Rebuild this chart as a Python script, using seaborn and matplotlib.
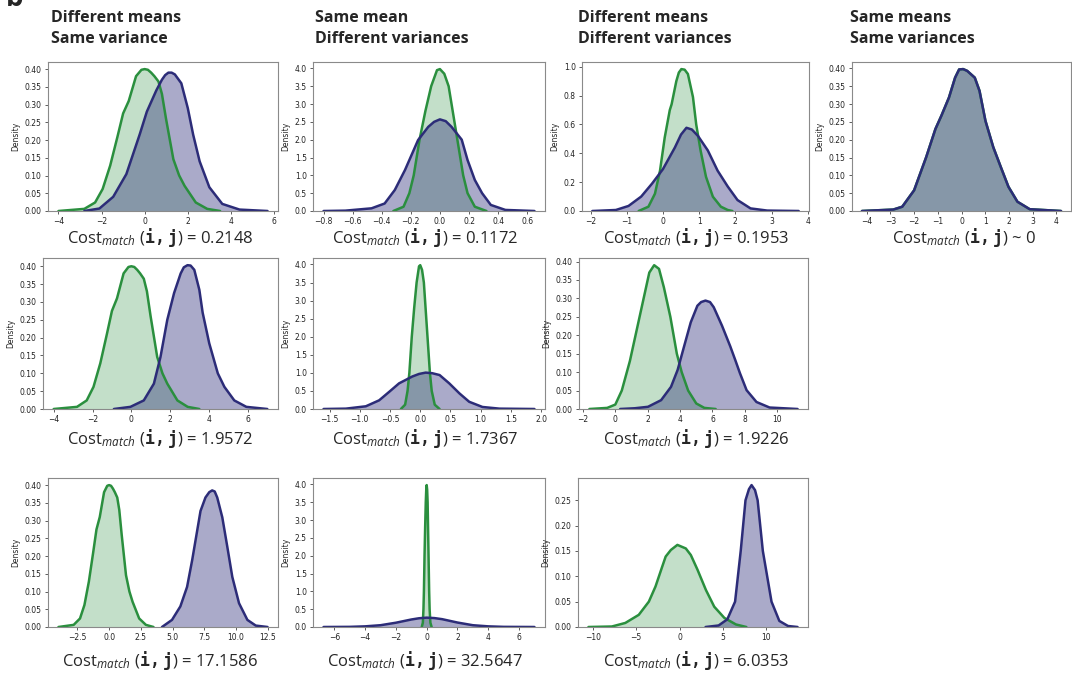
import matplotlib
matplotlib.use("Agg")
import matplotlib.pyplot as plt
from matplotlib.ticker import MultipleLocator
import seaborn as sns

# colours of the two distributions
GREEN = "#2a8f3e"
NAVY = "#2c2c78"

# ---- density curves (x, density) ----
# normal(0,1) style green curve, shared by first column
g_std_x = [-4.0, -2.8, -2.3, -1.95, -1.6, -1.26, -1.0, -0.74, -0.4, -0.15, 0.0, 0.15, 0.3, 0.45, 0.64, 0.8,
           0.99, 1.33, 1.6, 1.85, 2.37, 2.9, 3.5]
g_std_y = [0.0, 0.006, 0.024, 0.062, 0.128, 0.21, 0.275, 0.31, 0.38, 0.398, 0.40, 0.398, 0.39, 0.38, 0.365, 0.33,
           0.26, 0.146, 0.10, 0.071, 0.024, 0.006, 0.0]

a_navy_x = [-2.8, -2.1, -1.46, -0.85, -0.23, 0.1, 0.54, 0.8, 0.95, 1.1, 1.25, 1.4, 1.7, 2.0, 2.25, 2.55, 3.0, 3.6,
            4.4, 5.7]
a_navy_y = [0.0, 0.007, 0.04, 0.104, 0.216, 0.28, 0.34, 0.37, 0.383, 0.39, 0.39, 0.385, 0.36, 0.29, 0.215, 0.14,
            0.067, 0.02, 0.004, 0.0]

# narrow green curve (sd ~0.1)
g_narrow_x = [-0.32, -0.25, -0.21, -0.18, -0.14, -0.1, -0.06, -0.02, 0.0, 0.03, 0.06, 0.08, 0.12, 0.16, 0.19,
              0.24, 0.32]
g_narrow_y = [0.0, 0.12, 0.5, 1.0, 2.0, 2.8, 3.5, 3.95, 3.98, 3.85, 3.5, 3.0, 2.0, 1.0, 0.5, 0.12, 0.0]

b_navy_x = [-0.8, -0.65, -0.47, -0.38, -0.31, -0.24, -0.18, -0.15, -0.08, -0.04, 0.0, 0.04, 0.08, 0.15, 0.19,
            0.24, 0.29, 0.35, 0.45, 0.65]
b_navy_y = [0.0, 0.01, 0.075, 0.21, 0.59, 1.15, 1.71, 1.99, 2.36, 2.5, 2.57, 2.52, 2.36, 2.0, 1.43, 0.87, 0.5,
            0.17, 0.03, 0.0]

c_green_x = [-0.67, -0.4, -0.22, -0.08, 0.05, 0.19, 0.24, 0.37, 0.44, 0.51, 0.6, 0.69, 0.83, 0.92, 1.04, 1.19,
             1.38, 1.6, 1.79, 1.92]
c_green_y = [0.0, 0.03, 0.12, 0.28, 0.51, 0.70, 0.74, 0.90, 0.96, 0.984, 0.98, 0.95, 0.79, 0.60, 0.42, 0.237,
             0.099, 0.03, 0.007, 0.0]
c_navy_x = [-1.95, -1.3, -0.95, -0.6, -0.3, 0.0, 0.33, 0.5, 0.65, 0.8, 0.97, 1.24, 1.51, 1.79, 2.06, 2.42, 2.88,
            3.75]
c_navy_y = [0.0, 0.007, 0.035, 0.1, 0.19, 0.29, 0.44, 0.53, 0.577, 0.565, 0.52, 0.42, 0.28, 0.17, 0.076, 0.018,
            0.003, 0.0]

d_same_x = [-4.2, -2.88, -2.5, -2.0, -1.49, -1.1, -0.85, -0.53, -0.27, -0.1, 0.07, 0.24, 0.56, 0.76, 1.01, 1.34,
            1.66, 1.98, 2.36, 2.88, 4.2]
d_same_y = [0.0, 0.004, 0.012, 0.058, 0.151, 0.23, 0.267, 0.318, 0.374, 0.397, 0.398, 0.393, 0.374, 0.337, 0.253,
            0.179, 0.123, 0.068, 0.026, 0.005, 0.0]

e_navy_x = [-0.9, -0.05, 0.64, 1.16, 1.5, 1.85, 2.2, 2.54, 2.7, 2.89, 3.05, 3.24, 3.5, 3.67, 4.01, 4.45, 4.79,
            5.3, 5.92, 7.0]
e_navy_y = [0.0, 0.006, 0.024, 0.071, 0.146, 0.25, 0.325, 0.38, 0.397, 0.403, 0.402, 0.39, 0.334, 0.27, 0.184,
            0.1, 0.062, 0.024, 0.006, 0.0]

f_navy_x = [-1.6, -1.23, -0.9, -0.68, -0.51, -0.35, -0.13, -0.02, 0.09, 0.2, 0.32, 0.48, 0.65, 0.81, 1.03, 1.31,
            1.89]
f_navy_y = [0.0, 0.01, 0.075, 0.24, 0.48, 0.71, 0.9, 0.97, 1.007, 0.99, 0.94, 0.71, 0.43, 0.2, 0.056, 0.01, 0.0]

g_green_x = [-1.6, -0.5, 0.0, 0.4, 0.9, 1.4, 1.8, 2.1, 2.4, 2.7, 3.0, 3.4, 3.8, 4.1, 4.5, 5.0, 5.5, 6.2]
g_green_y = [0.0, 0.003, 0.012, 0.05, 0.13, 0.23, 0.31, 0.37, 0.39, 0.38, 0.33, 0.25, 0.15, 0.10, 0.05, 0.015,
             0.003, 0.0]
g_navy_x = [0.3, 1.2, 2.02, 2.83, 3.44, 3.85, 4.25, 4.66, 5.07, 5.3, 5.57, 5.85, 6.08, 6.59, 7.1, 7.4, 7.7, 8.11,
            8.72, 9.53, 11.26]
g_navy_y = [0.0, 0.002, 0.006, 0.024, 0.06, 0.106, 0.17, 0.235, 0.28, 0.29, 0.294, 0.29, 0.276, 0.226, 0.17,
            0.134, 0.097, 0.051, 0.019, 0.004, 0.0]

h_navy_x = [4.17, 4.96, 5.62, 6.15, 6.55, 6.94, 7.21, 7.6, 7.9, 8.13, 8.33, 8.53, 8.93, 9.33, 9.72, 10.25, 10.91,
            11.57, 12.5]
h_navy_y = [0.0, 0.02, 0.058, 0.113, 0.188, 0.27, 0.327, 0.365, 0.38, 0.385, 0.382, 0.365, 0.309, 0.225, 0.141,
            0.067, 0.02, 0.004, 0.0]

i_navy_x = [-6.7, -5, -4, -3, -2, -1, -0.5, 0, 0.5, 1, 2, 3, 4, 5, 7]
i_navy_y = [0.0, 0.004, 0.018, 0.05, 0.12, 0.21, 0.245, 0.262, 0.25, 0.22, 0.125, 0.05, 0.018, 0.004, 0.0]

j_green_x = [-10.5, -7.8, -6.25, -4.7, -3.54, -2.77, -2.0, -1.6, -1.0, -0.25, 0.72, 1.3, 2.07, 3.04, 4.0, 5.16,
             6.5, 7.7]
j_green_y = [0.0, 0.001, 0.008, 0.024, 0.05, 0.08, 0.119, 0.139, 0.152, 0.162, 0.155, 0.142, 0.113, 0.073, 0.04,
             0.018, 0.005, 0.0]
j_navy_x = [3.0, 4.5, 5.5, 6.4, 7.05, 7.6, 8.0, 8.3, 8.7, 9.0, 9.6, 10.6, 11.5, 12.5, 13.6]
j_navy_y = [0.0, 0.003, 0.015, 0.05, 0.15, 0.25, 0.272, 0.28, 0.27, 0.25, 0.15, 0.05, 0.012, 0.002, 0.0]

col_titles = ["Different means\nSame variance", "Same mean\nDifferent variances",
              "Different means\nDifferent variances", "Same means\nSame variances"]
cost_values = ["= 0.2148", "= 0.1172", "= 0.1953", "~ 0",
               "= 1.9572", "= 1.7367", "= 1.9226",
               "= 17.1586", "= 32.5647", "= 6.0353"]

# ---- style ----
sns.set_style("ticks")
plt.rcParams["font.family"] = ["DejaVu Sans"]
plt.rcParams.update({
    "axes.edgecolor": "#8a8a8a",
    "axes.linewidth": 0.8,
    "xtick.color": "#444444",
    "ytick.color": "#444444",
    "xtick.labelcolor": "#222222",
    "ytick.labelcolor": "#222222",
    "xtick.labelsize": 5.5,
    "ytick.labelsize": 5.5,
    "xtick.major.size": 2.5,
    "ytick.major.size": 2.5,
    "xtick.major.width": 0.6,
    "ytick.major.width": 0.6,
    "mathtext.fontset": "custom",
    "mathtext.rm": "Open Sans",
    "mathtext.it": "Open Sans:italic",
    "mathtext.tt": "DejaVu Sans Mono:bold",
})

W, H = 1072, 675
fig = plt.figure(figsize=(W / 100, H / 100), dpi=100)


def add_panel(left, top, right, bottom):
    return fig.add_axes([left / W, 1 - bottom / H, (right - left) / W, (bottom - top) / H])


def draw_kde(ax, x, y, color, alpha):
    ax.fill_between(x, y, 0, color=color, alpha=alpha, lw=0)
    sns.lineplot(x=x, y=y, ax=ax, color=color, lw=1.8, sort=False)


# panel box (left, top, right, bottom px), curves, y tick step, x tick step
panels = [
    ((48, 62, 278, 211), (g_std_x, g_std_y), (a_navy_x, a_navy_y), 0.05, 2),
    ((313, 62, 545, 211), (g_narrow_x, g_narrow_y), (b_navy_x, b_navy_y), 0.5, 0.2),
    ((582, 62, 809, 211), (c_green_x, c_green_y), (c_navy_x, c_navy_y), 0.2, 1),
    ((852, 62, 1071, 211), (d_same_x, d_same_y), (d_same_x, d_same_y), 0.05, 1),
    ((43, 258, 278, 409), (g_std_x, g_std_y), (e_navy_x, e_navy_y), 0.05, 2),
    ((313, 258, 545, 409), (g_narrow_x, g_narrow_y), (f_navy_x, f_navy_y), 0.5, 0.5),
    ((579, 258, 808, 409), (g_green_x, g_green_y), (g_navy_x, g_navy_y), 0.05, 2),
    ((48, 478, 278, 627), (g_std_x, g_std_y), (h_navy_x, h_navy_y), 0.05, 2.5),
    ((313, 478, 545, 627), (g_narrow_x, g_narrow_y), (i_navy_x, i_navy_y), 0.5, 2),
    ((578, 478, 808, 627), (j_green_x, j_green_y), (j_navy_x, j_navy_y), 0.05, 5),
]

for box, green, navy, ystep, xstep in panels:
    ax = add_panel(*box)
    draw_kde(ax, green[0], green[1], GREEN, 0.28)
    draw_kde(ax, navy[0], navy[1], NAVY, 0.4)
    ax.set_ylim(bottom=0)
    ax.yaxis.set_major_locator(MultipleLocator(ystep))
    ax.xaxis.set_major_locator(MultipleLocator(xstep))
    ax.set_ylabel("Density", fontsize=5.5, labelpad=3)
    ax.set_xlabel("")
    ax.tick_params(axis="x", pad=1.5)
    ax.tick_params(axis="y", pad=2)

# cost labels under each panel
cost_pos = [(160, 243), (425, 243), (696, 243), (964, 243),
            (160, 444), (425, 444), (696, 444),
            (160, 666), (425, 666), (696, 666)]
for (cx, cy), val in zip(cost_pos, cost_values):
    fig.text(cx / W, 1 - cy / H, r"Cost$_{\mathit{match}}\ (\mathtt{i,j})$ " + val,
             ha="center", va="baseline", fontsize=12, family="Open Sans")

# column titles
for tx, title in zip([51, 315, 578, 850], col_titles):
    fig.text(tx / W, 1 - 10 / H, title, ha="left", va="top", fontsize=11.5,
             fontweight="bold", family="Open Sans", linespacing=1.4)

# panel letter (cut at the top edge like the source figure)
fig.text(6 / W, 1 - 6 / H, "b", ha="left", va="baseline", fontsize=20, fontweight="bold",
         family="Open Sans")

fig.savefig("out.png", dpi=100)
